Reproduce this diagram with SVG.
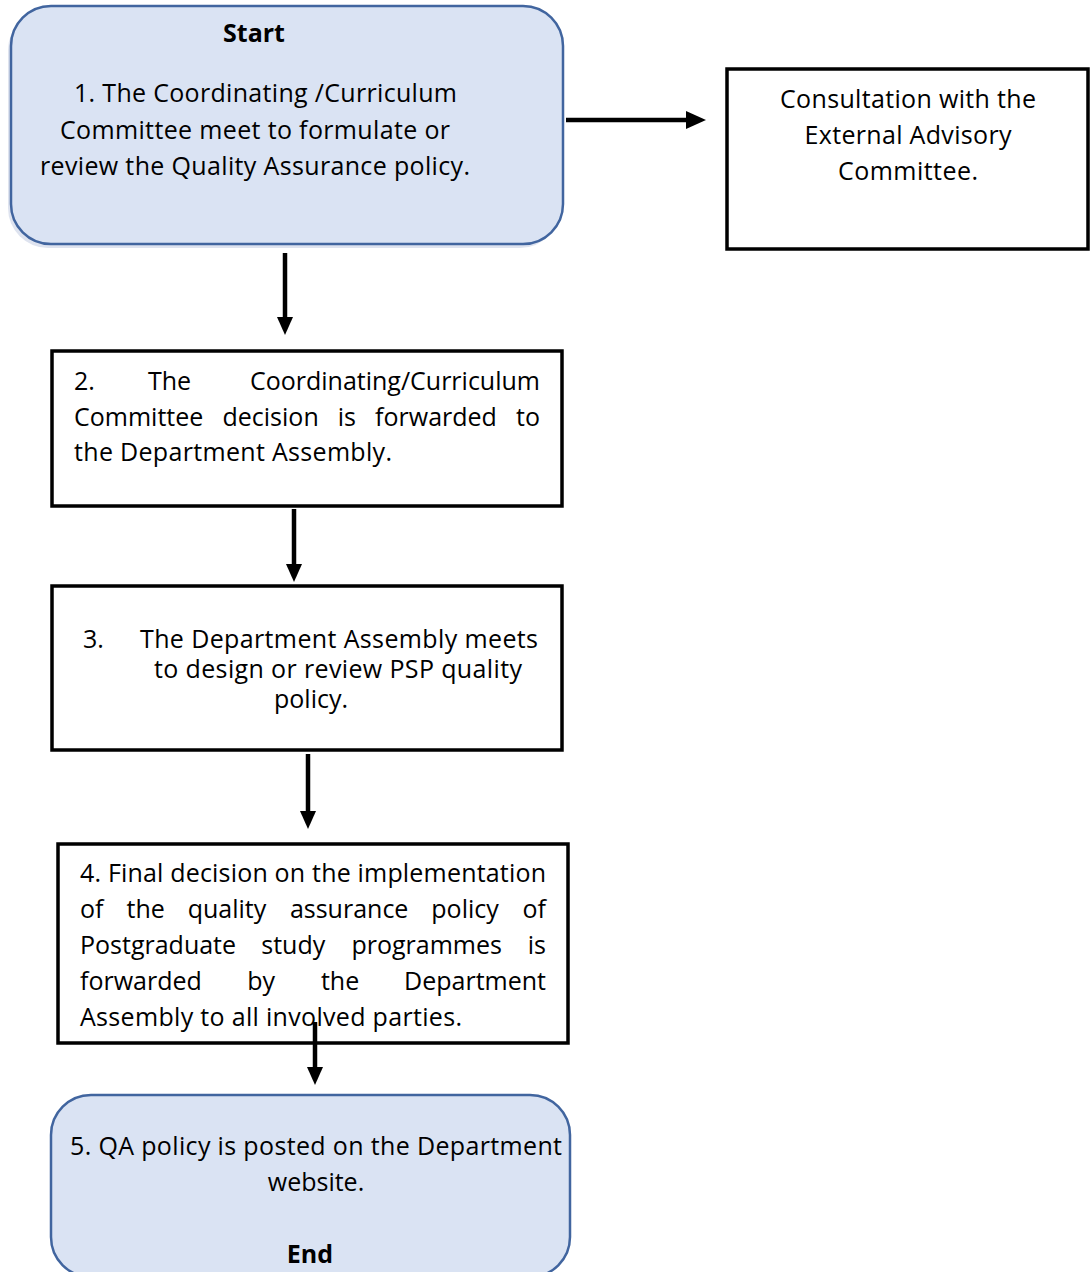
<svg xmlns="http://www.w3.org/2000/svg" width="1092" height="1272" viewBox="0 0 1092 1272">
<style>
.t{font-family:"Open Sans","Liberation Sans",sans-serif;font-size:25px;fill:#000}
.b{font-weight:bold}
.m{text-anchor:middle}
.e{text-anchor:end}
.term{fill:#dae3f3;stroke:#41659f;stroke-width:2.5}
.box{fill:#fff;stroke:#000;stroke-width:3.5}
.conn line{stroke:#000;stroke-width:4.5}
.conn polygon{fill:#000}
</style>
<rect width="1092" height="1272" fill="#fff"/>
<g id="n1">
<rect x="8" y="10" width="552" height="238" rx="40" fill="#c8d1e4" opacity="0.6"/>
<rect class="term" x="11" y="6" width="552" height="238" rx="40"/>
<text class="t b m" x="254" y="42">Start</text>
<text class="t m" x="265.5" y="102" textLength="383" lengthAdjust="spacing">1. The Coordinating /Curriculum</text>
<text class="t m" x="255" y="139" textLength="390" lengthAdjust="spacing">Committee meet to formulate or</text>
<text class="t m" x="255" y="175" textLength="430" lengthAdjust="spacing">review the Quality Assurance policy.</text>
</g>
<g id="n_ext">
<rect class="box" x="727" y="69" width="361" height="180"/>
<text class="t m" x="908" y="108" textLength="256" lengthAdjust="spacing">Consultation with the</text>
<text class="t m" x="908" y="144" textLength="207" lengthAdjust="spacing">External Advisory</text>
<text class="t m" x="908" y="180" textLength="140" lengthAdjust="spacing">Committee.</text>
</g>
<g id="n2">
<rect class="box" x="52" y="351" width="510" height="155"/>
<text class="t" y="390"><tspan x="74">2.</tspan><tspan x="148">The</tspan></text>
<text class="t e" x="540" y="390">Coordinating/Curriculum</text>
<text class="t" y="426"><tspan x="74">Committee</tspan><tspan x="222.5">decision</tspan><tspan x="337.8">is</tspan><tspan x="375.1">forwarded</tspan></text>
<text class="t e" x="540" y="426">to</text>
<text class="t" x="74" y="461" textLength="318" lengthAdjust="spacing">the Department Assembly.</text>
</g>
<g id="n3">
<rect class="box" x="52" y="586" width="510" height="164"/>
<text class="t"><tspan x="83" y="648">3.</tspan><tspan x="140" y="648" textLength="398" lengthAdjust="spacing">The Department Assembly meets</tspan><tspan x="338" y="678" text-anchor="middle" textLength="368" lengthAdjust="spacing">to design or review PSP quality</tspan><tspan x="311" y="708" text-anchor="middle">policy.</tspan></text>
</g>
<g id="n4">
<rect class="box" x="58" y="844" width="510" height="199"/>
<text class="t" x="80" y="882" textLength="466" lengthAdjust="spacing">4. Final decision on the implementation</text>
<text class="t" y="918"><tspan x="80">of</tspan><tspan x="126.5">the</tspan><tspan x="187.7">quality</tspan><tspan x="289.9">assurance</tspan><tspan x="431.3">policy</tspan></text>
<text class="t e" x="546" y="918">of</text>
<text class="t" y="954"><tspan x="80">Postgraduate</tspan><tspan x="261.3">study</tspan><tspan x="351.4">programmes</tspan></text>
<text class="t e" x="546" y="954">is</text>
<text class="t" y="990"><tspan x="80">forwarded</tspan><tspan x="247.2">by</tspan><tspan x="320.9">the</tspan></text>
<text class="t e" x="546" y="990">Department</text>
<text class="t" x="80" y="1026" textLength="382" lengthAdjust="spacing">Assembly to all involved parties.</text>
</g>
<g id="n5">
<rect class="term" x="51" y="1095" width="519" height="182" rx="40"/>
<text class="t m" x="316" y="1155" textLength="492" lengthAdjust="spacing">5. QA policy is posted on the Department</text>
<text class="t m" x="316" y="1191">website.</text>
<text class="t b m" x="310" y="1263">End</text>
</g>
<g id="connectors" class="conn">
<line x1="566" y1="120" x2="688" y2="120"/>
<polygon points="686,111 706,120 686,129"/>
<line x1="285" y1="253" x2="285" y2="319"/>
<polygon points="277,317 293,317 285,335"/>
<line x1="294" y1="509" x2="294" y2="566"/>
<polygon points="286,564 302,564 294,582"/>
<line x1="308" y1="754" x2="308" y2="813"/>
<polygon points="300,811 316,811 308,829"/>
<line x1="315" y1="1022" x2="315" y2="1069"/>
<polygon points="307,1067 323,1067 315,1085"/>
</g>
</svg>
